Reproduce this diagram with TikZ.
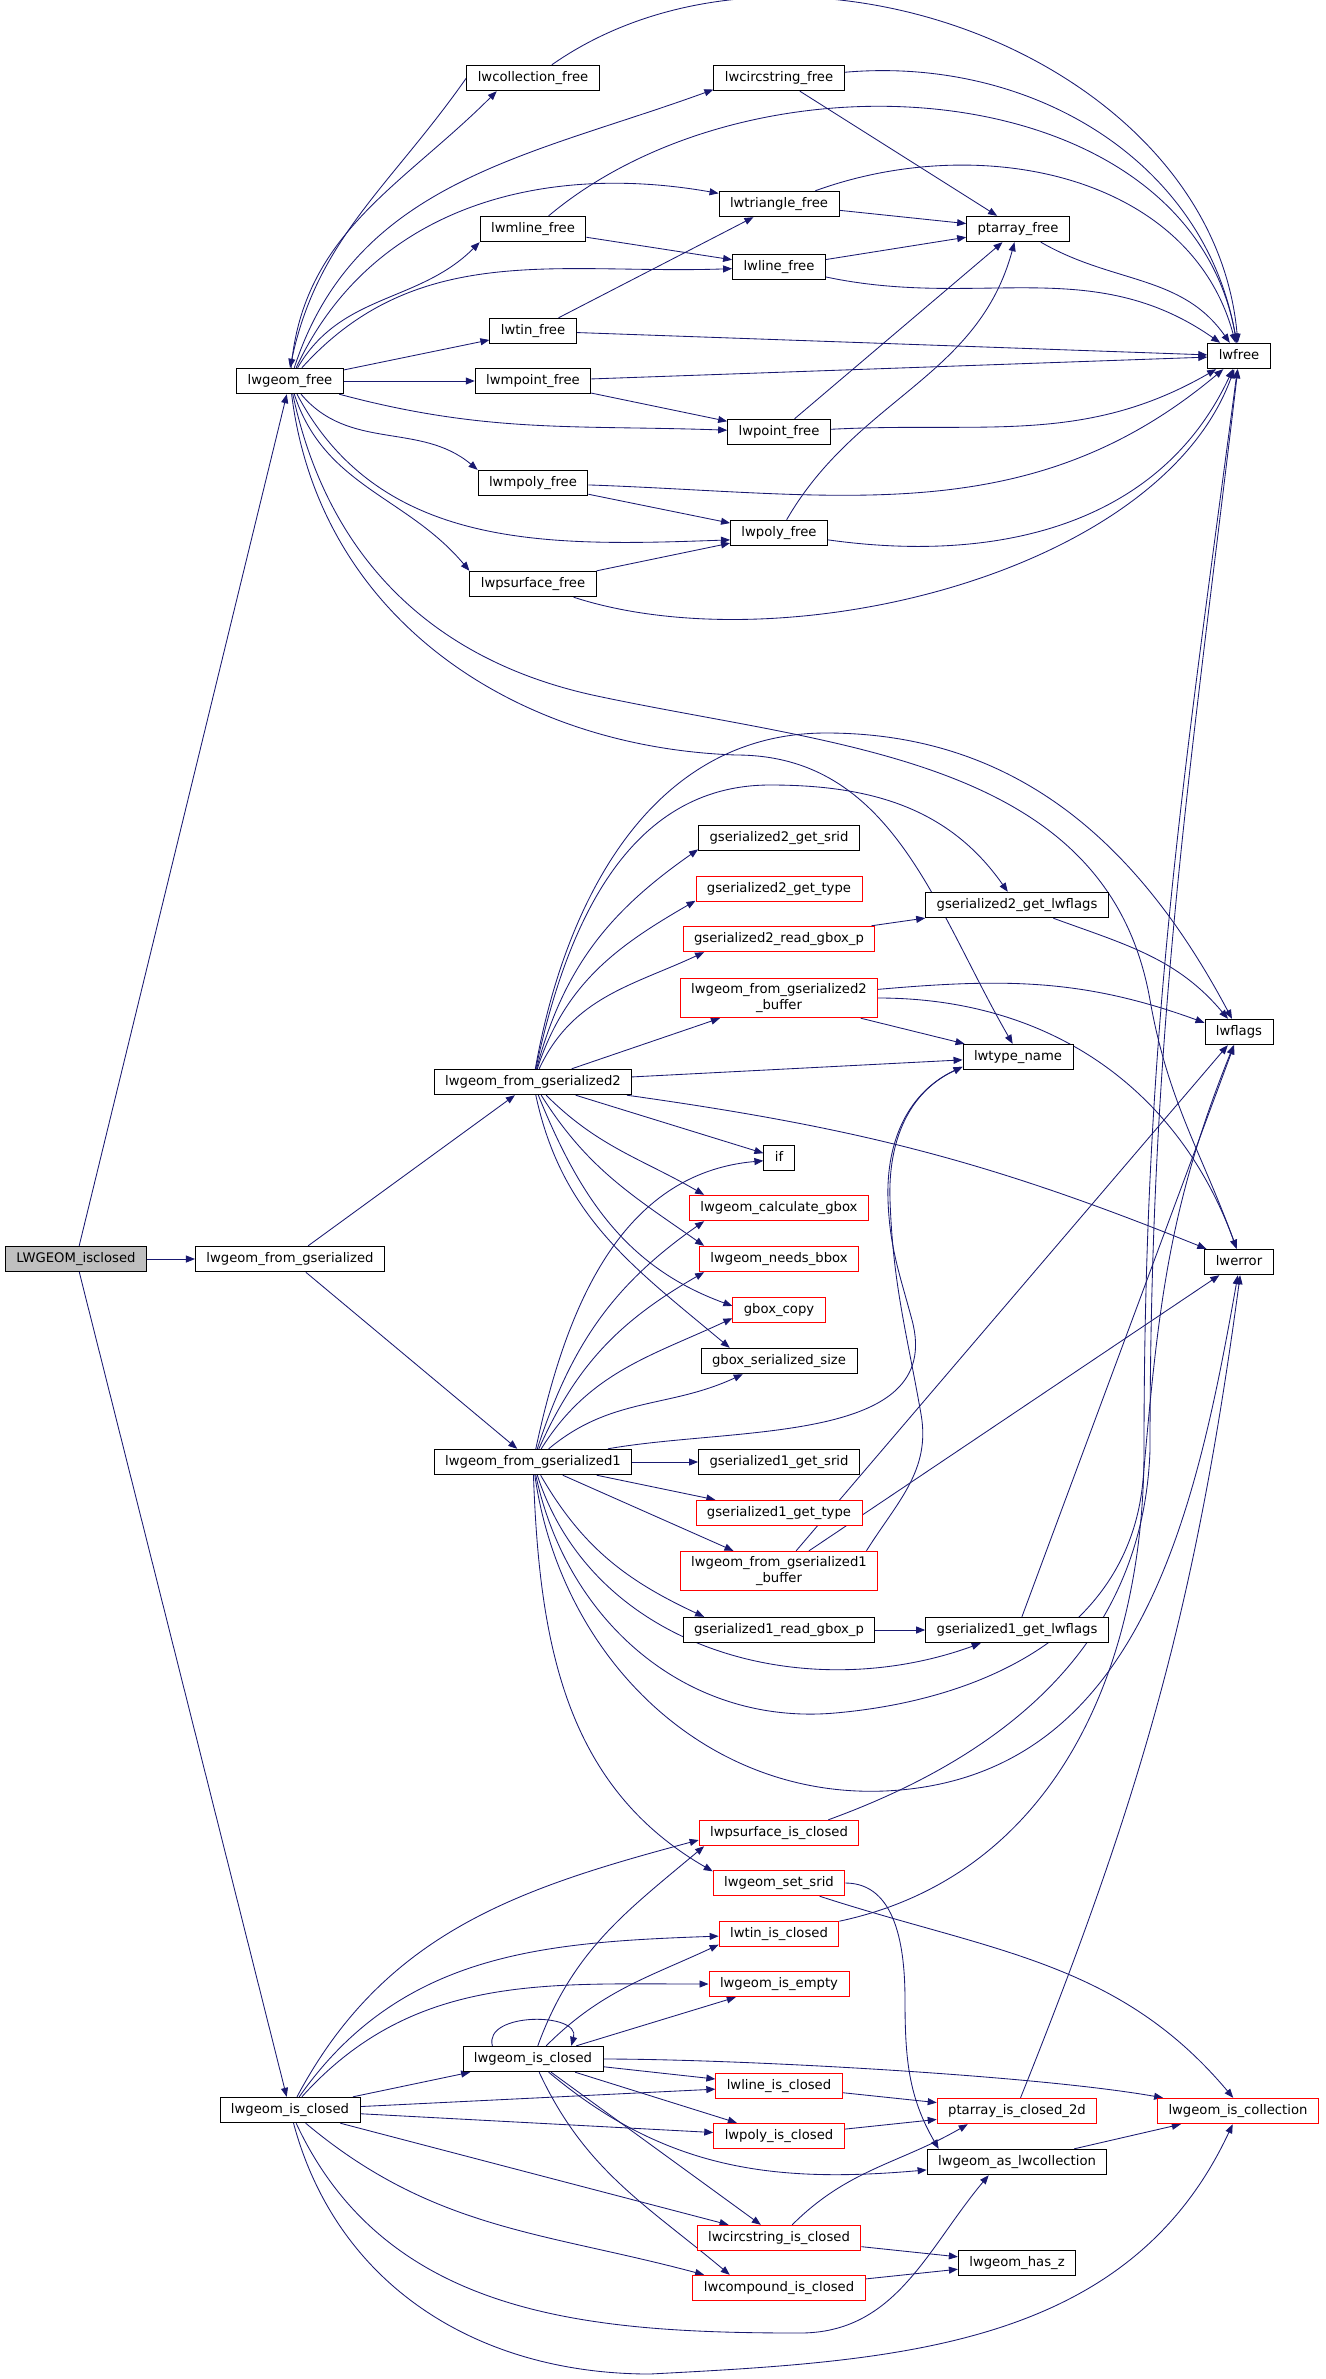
\documentclass[tikz,border=0pt]{standalone}
\usepackage{fontspec}
\setmainfont{DejaVu Sans}
\usetikzlibrary{arrows.meta}
\definecolor{edgeblue}{HTML}{191970}
\definecolor{rootgray}{HTML}{BFBFBF}
\newcommand{\fnfont}{\fontsize{13.2}{15.3}\selectfont}
\pgfdeclarelayer{edges}
\pgfsetlayers{edges,main}
\begin{document}
\begin{tikzpicture}
[x=1pt,y=1pt,
  fnbox/.style={shape=rectangle,draw,line width=0.9pt,fill=white,minimum height=25.5pt,
    inner xsep=11pt,inner ysep=5.5pt,font=\fnfont},
  fn/.style={fnbox,text height=10pt,text depth=3.1pt},
  fnred/.style={fn,draw=red},
  fnredtwo/.style={fnbox,draw=red,align=center},
  rootfn/.style={fn,fill=rootgray},
  call/.style={-{Triangle[length=9pt,width=7pt]},draw=edgeblue,fill=none,line width=0.85pt}]
\useasboundingbox (0,0) rectangle (1325,-2379);

\node[rootfn] (root) at (76,-1259) {LWGEOM\_isclosed};
\node[fn] (geomfree) at (290,-381) {lwgeom\_free};
\node[fn] (fromser) at (290,-1259) {lwgeom\_from\_gserialized};
\node[fn] (isclosed) at (290,-2110) {lwgeom\_is\_closed};

\node[fn] (collfree) at (533,-78) {lwcollection\_free};
\node[fn] (mlinefree) at (533,-229) {lwmline\_free};
\node[fn] (tinfree) at (533,-331) {lwtin\_free};
\node[fn] (mpointfree) at (533,-381) {lwmpoint\_free};
\node[fn] (mpolyfree) at (533,-483) {lwmpoly\_free};
\node[fn] (psurffree) at (533,-584) {lwpsurface\_free};
\node[fn] (fromsertwo) at (533,-1082) {lwgeom\_from\_gserialized2};
\node[fn] (fromserone) at (533,-1462) {lwgeom\_from\_gserialized1};
\node[fn] (isclosedin) at (533,-2059) {lwgeom\_is\_closed};

\node[fn] (circfree) at (779,-78) {lwcircstring\_free};
\node[fn] (trifree) at (779,-204) {lwtriangle\_free};
\node[fn] (linefree) at (779,-267) {lwline\_free};
\node[fn] (pointfree) at (779,-432) {lwpoint\_free};
\node[fn] (polyfree) at (779,-533) {lwpoly\_free};
\node[fn] (gtwosrid) at (779,-838) {gserialized2\_get\_srid};
\node[fnred] (gtwotype) at (779,-889) {gserialized2\_get\_type};
\node[fnred] (gtworead) at (779,-939) {gserialized2\_read\_gbox\_p};
\node[fnredtwo] (fromtwobuf) at (779,-998) {lwgeom\_from\_gserialized2\\\_buffer};
\node[fn] (ifnode) at (779,-1158) {if};
\node[fnred] (calcgbox) at (779,-1208) {lwgeom\_calculate\_gbox};
\node[fnred] (needsbbox) at (779,-1259) {lwgeom\_needs\_bbox};
\node[fnred] (gboxcopy) at (779,-1310) {gbox\_copy};
\node[fn] (gboxsize) at (779,-1361) {gbox\_serialized\_size};
\node[fn] (gonesrid) at (779,-1462) {gserialized1\_get\_srid};
\node[fnred] (gonetype) at (779,-1513) {gserialized1\_get\_type};
\node[fnredtwo] (fromonebuf) at (779,-1571) {lwgeom\_from\_gserialized1\\\_buffer};
\node[fn] (goneread) at (779,-1630) {gserialized1\_read\_gbox\_p};
\node[fnred] (psurfclosed) at (779,-1833) {lwpsurface\_is\_closed};
\node[fnred] (setsrid) at (779,-1883) {lwgeom\_set\_srid};
\node[fnred] (tinclosed) at (779,-1934) {lwtin\_is\_closed};
\node[fnred] (isempty) at (779,-1984) {lwgeom\_is\_empty};
\node[fnred] (lineclosed) at (779,-2086) {lwline\_is\_closed};
\node[fnred] (polyclosed) at (779,-2136) {lwpoly\_is\_closed};
\node[fnred] (circclosed) at (779,-2238) {lwcircstring\_is\_closed};
\node[fnred] (compclosed) at (779,-2288) {lwcompound\_is\_closed};

\node[fn] (ptfree) at (1018,-229) {ptarray\_free};
\node[fn] (gtwoflags) at (1017,-905) {gserialized2\_get\_lwflags};
\node[fn] (typename) at (1018,-1057) {lwtype\_name};
\node[fn] (goneflags) at (1017,-1630) {gserialized1\_get\_lwflags};
\node[fnred] (ptclosed) at (1017,-2111) {ptarray\_is\_closed\_2d};
\node[fn] (ascoll) at (1017,-2162) {lwgeom\_as\_lwcollection};
\node[fn] (hasz) at (1017,-2263) {lwgeom\_has\_z};

\node[fn] (lwfree) at (1239,-356) {lwfree};
\node[fn] (lwflags) at (1239,-1032) {lwflags};
\node[fn] (lwerror) at (1239,-1262) {lwerror};
\node[fnred] (iscoll) at (1238,-2111) {lwgeom\_is\_collection};

\begin{pgfonlayer}{edges}
\draw[call] (root) -- (geomfree);
\draw[call] (root) -- (fromser);
\draw[call] (root) -- (isclosed);

\draw[call] (geomfree) to[out=85,in=225] (collfree.200);
\draw[call] (collfree.west) to[out=235,in=78] (geomfree.north);
\draw[call] (geomfree) to[out=72,in=200] (circfree.190);
\draw[call] (geomfree) to[out=65,in=170] (trifree.170);
\draw[call] (geomfree) to[out=60,in=225] (mlinefree.south west);
\draw[call] (geomfree) to[out=48,in=182] (linefree);
\draw[call] (geomfree) -- (tinfree);
\draw[call] (geomfree) -- (mpointfree);
\draw[call] (geomfree) to[out=-15,in=178] (pointfree);
\draw[call] (geomfree) to[out=-50,in=140] (mpolyfree.north west);
\draw[call] (geomfree) to[out=-62,in=182] (polyfree.188);
\draw[call] (geomfree) to[out=-72,in=130] (psurffree.north west);
\draw[call] (geomfree) to[out=-78,in=168] (597,-696) to[out=-12,in=100] (1150,-1000)
  to[out=-80,in=110] (lwerror.100);
\draw[call] (geomfree) to[out=-83,in=178] (736,-755) to[out=0,in=120] (typename.112);

\draw[call] (collfree) to[out=35,in=95] (lwfree);
\draw[call] (circfree) to[out=5,in=100] (lwfree);
\draw[call] (circfree) -- (ptfree);
\draw[call] (trifree) -- (ptfree);
\draw[call] (trifree) to[out=20,in=105] (lwfree);
\draw[call] (mlinefree) -- (linefree);
\draw[call] (mlinefree) to[out=40,in=100] (lwfree);
\draw[call] (linefree) -- (ptfree);
\draw[call] (linefree) to[out=-12,in=145] (lwfree);
\draw[call] (ptfree) to[out=-30,in=125] (lwfree);
\draw[call] (tinfree) -- (trifree);
\draw[call] (tinfree) -- (lwfree);
\draw[call] (mpointfree) -- (lwfree);
\draw[call] (mpointfree) -- (pointfree);
\draw[call] (pointfree) -- (ptfree);
\draw[call] (pointfree) to[out=3,in=210] (lwfree);
\draw[call] (mpolyfree) to[out=-2,in=220] (lwfree);
\draw[call] (mpolyfree) -- (polyfree);
\draw[call] (polyfree) to[out=60,in=-105] (ptfree);
\draw[call] (polyfree) to[out=-8,in=245] (lwfree);
\draw[call] (psurffree) -- (polyfree);
\draw[call] (psurffree) to[out=-18,in=-110,looseness=0.8] (lwfree);

\draw[call] (fromser) -- (fromsertwo);
\draw[call] (fromser) -- (fromserone);

\draw[call] (fromsertwo) to[out=80,in=180] (826,-733) to[out=0,in=118] (lwflags.118);
\draw[call] (fromsertwo) to[out=78,in=180] (770,-785) to[out=0,in=125] (gtwoflags.125);
\draw[call] (fromsertwo) to[out=75,in=215] (gtwosrid.188);
\draw[call] (fromsertwo) to[out=72,in=210] (gtwotype.188);
\draw[call] (fromsertwo) to[out=65,in=205] (gtworead.190);
\draw[call] (fromsertwo) -- (fromtwobuf);
\draw[call] (fromsertwo) -- (typename);
\draw[call] (fromsertwo) to[out=-8,in=158] (lwerror);
\draw[call] (fromsertwo) -- (ifnode);
\draw[call] (fromsertwo) to[out=-45,in=150] (calcgbox.170);
\draw[call] (fromsertwo) to[out=-58,in=145] (needsbbox.170);
\draw[call] (fromsertwo) to[out=-68,in=160] (gboxcopy.175);
\draw[call] (fromsertwo) to[out=-78,in=140] (gboxsize.165);

\draw[call] (fromserone) to[out=78,in=185] (ifnode.190);
\draw[call] (fromserone) to[out=72,in=215] (calcgbox.190);
\draw[call] (fromserone) to[out=66,in=210] (needsbbox.190);
\draw[call] (fromserone) to[out=58,in=205] (gboxcopy.190);
\draw[call] (fromserone) to[out=40,in=205] (gboxsize.200);
\draw[call] (fromserone) to[out=10,in=-75] (912,-1320) to[out=105,in=-88] (888,-1200)
  to[out=92,in=205] (typename.190);
\draw[call] (fromserone) -- (gonesrid);
\draw[call] (fromserone) -- (gonetype);
\draw[call] (fromserone) -- (fromonebuf);
\draw[call] (fromserone) to[out=-60,in=155] (goneread.170);
\draw[call] (fromserone) to[out=-72,in=200] (goneflags.200);
\draw[call] (fromserone) to[out=-78,in=185] (835,-1713) to[out=5,in=-95] (1143,-1480)
  to[out=85,in=-112] (lwflags.-112);
\draw[call] (fromserone) to[out=-82,in=185] (900,-1790) to[out=5,in=-100] (lwerror.-95);
\draw[call] (fromserone) to[out=-88,in=150] (setsrid.170);

\draw[call] (fromtwobuf) to[out=5,in=160] (lwflags.165);
\draw[call] (fromtwobuf) -- (typename);
\draw[call] (fromtwobuf) to[out=0,in=110] (lwerror.100);
\draw[call] (fromonebuf) -- (lwflags);
\draw[call] (fromonebuf) -- (lwerror);
\draw[call] (fromonebuf.13) to[out=58,in=-80] (921,-1414) to[out=100,in=-88] (890,-1200)
  to[out=92,in=205] (typename.190);

\draw[call] (gtworead) -- (gtwoflags);
\draw[call] (gtwoflags) to[out=-20,in=130] (lwflags);
\draw[call] (goneread) -- (goneflags);
\draw[call] (goneflags) -- (lwflags);

\draw[call] (setsrid) to[out=0,in=90] (905,-2000) to[out=-90,in=120] ([xshift=12pt]ascoll.north west);
\draw[call] (setsrid) to[out=-18,in=130] (iscoll.110);
\draw[call] (psurfclosed.15) to[out=20,in=-92] (1150,-1450)
  .. controls (1150,-1030) and (1188,-790) .. (lwfree.-95);
\draw[call] (tinclosed) to[out=12,in=-90] (1144,-1450)
  .. controls (1144,-1030) and (1182,-790) .. (lwfree.-97);
\draw[call] (ptclosed.75) .. controls (1143,-1792) and (1196,-1604) .. (lwerror.-85);
\draw[call] (lineclosed) -- (ptclosed);
\draw[call] (polyclosed) -- (ptclosed);
\draw[call] (circclosed) to[out=45,in=210] (ptclosed.195);
\draw[call] (circclosed) -- (hasz);
\draw[call] (compclosed) -- (hasz);
\draw[call] (ascoll) -- (iscoll);

\draw[call] (isclosed) to[out=62,in=195] (psurfclosed.185);
\draw[call] (isclosed) to[out=55,in=182] (tinclosed);
\draw[call] (isclosed) to[out=48,in=180] (isempty);
\draw[call] (isclosed) -- (isclosedin);
\draw[call] (isclosed) -- (lineclosed);
\draw[call] (isclosed) -- (polyclosed);
\draw[call] (isclosed) -- (circclosed);
\draw[call] (isclosed) to[out=-40,in=165] (compclosed.170);
\draw[call] (isclosed) to[out=-65,in=180] (800,-2333) to[out=0,in=-130] (ascoll.205);
\draw[call] (isclosed) to[out=-75,in=180] (650,-2374) to[out=3,in=-115] (iscoll.-112);

\draw[call] (isclosedin.162) .. controls +(105:35) and +(75:35) .. (isclosedin.19);
\draw[call] (isclosedin) to[out=70,in=220] (psurfclosed.190);
\draw[call] (isclosedin) to[out=45,in=205] (tinclosed.190);
\draw[call] (isclosedin) -- (isempty);
\draw[call] (isclosedin) to[out=0,in=170,looseness=0.6] (iscoll.170);
\draw[call] (isclosedin) -- (lineclosed);
\draw[call] (isclosedin) -- (polyclosed);
\draw[call] (isclosedin) to[out=-40,in=185] (ascoll);
\draw[call] (isclosedin) -- (circclosed);
\draw[call] (isclosedin) to[out=-65,in=140] (compclosed.165);
\end{pgfonlayer}
\end{tikzpicture}
\end{document}
